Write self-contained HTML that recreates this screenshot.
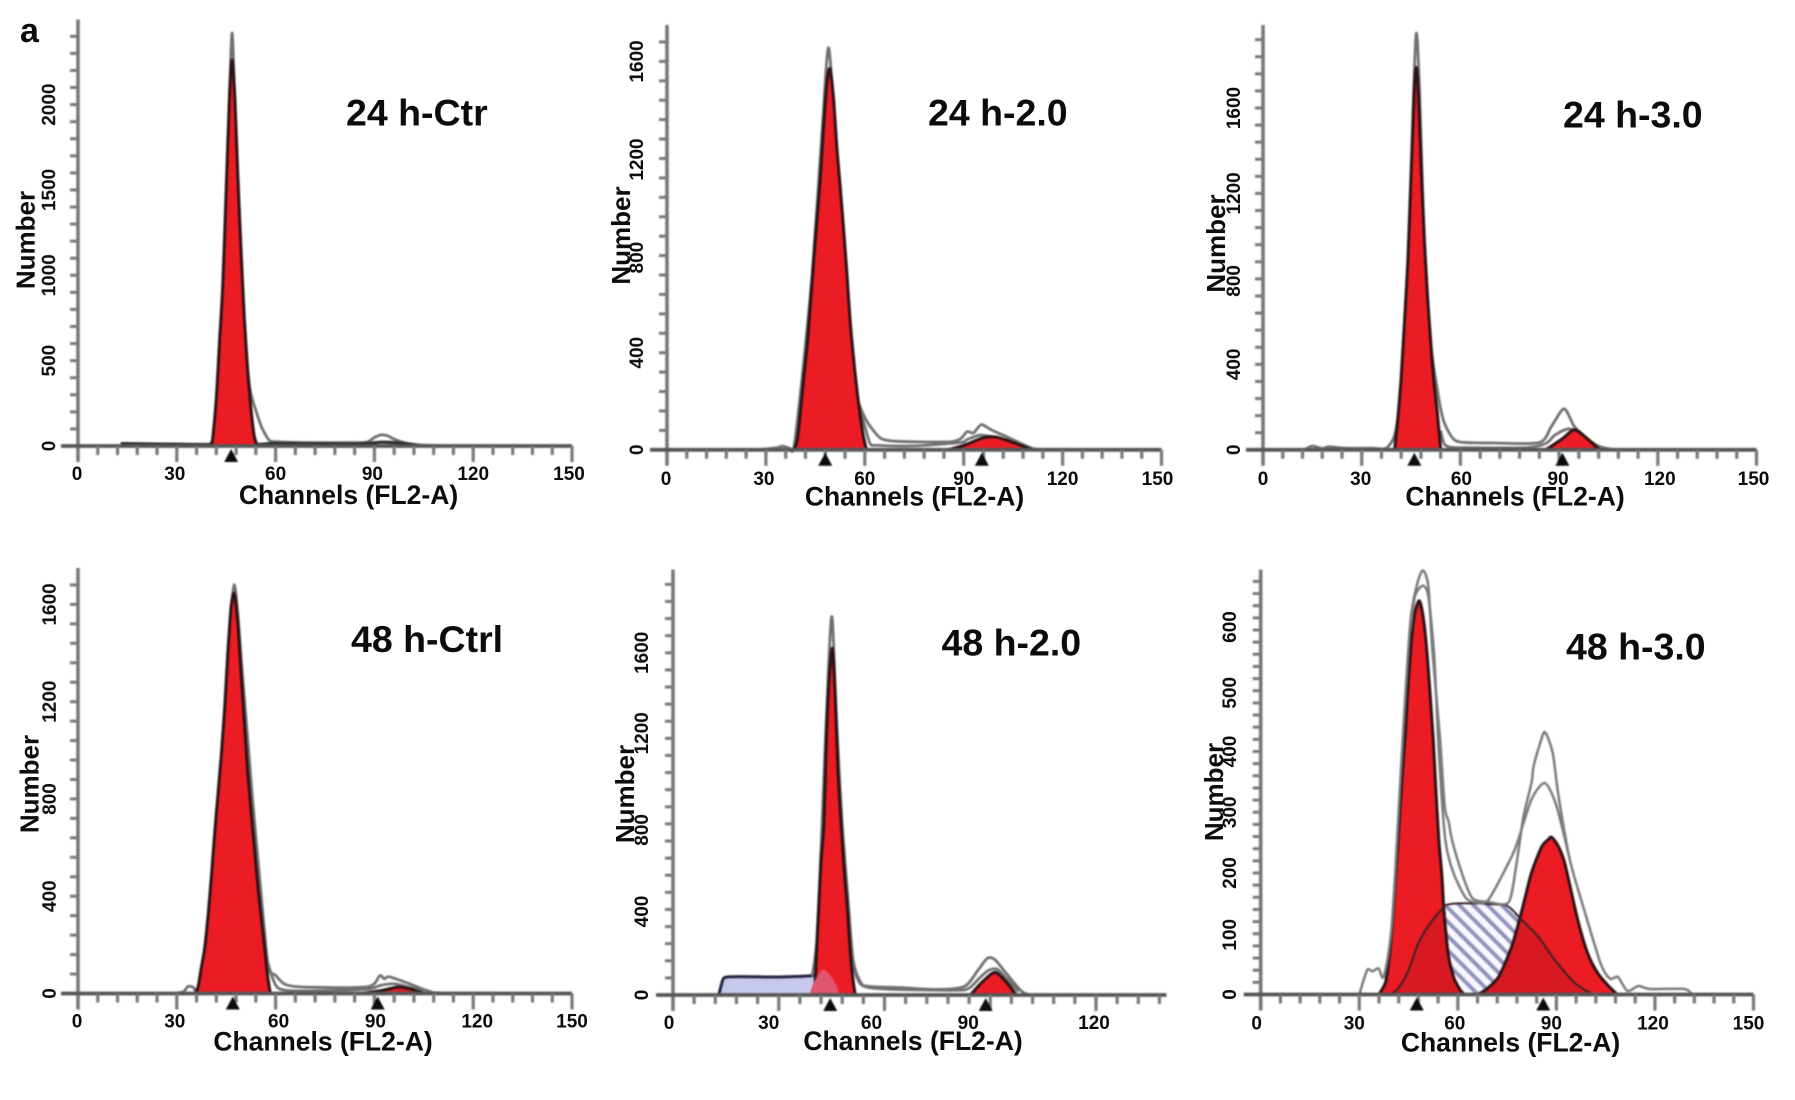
<!DOCTYPE html>
<html lang="en">
<head>
<meta charset="utf-8">
<title>Cell cycle histograms</title>
<style>
html,body{margin:0;padding:0;background:#fff;width:1795px;height:1100px;overflow:hidden}
svg{display:block}
text{font-family:"Liberation Sans",sans-serif;font-weight:bold;fill:#0c0c0c;filter:blur(0.35px)}
</style>
</head>
<body>
<svg id="figure" xmlns="http://www.w3.org/2000/svg" width="1795" height="1100" viewBox="0 0 1795 1100">
  <defs>
    <pattern id="hatch" patternUnits="userSpaceOnUse" width="10" height="10" patternTransform="rotate(-45)">
      <rect width="10" height="10" fill="#f7f7fc"></rect>
      <rect width="3.8" height="10" fill="#8f91bb"></rect>
    </pattern>
  </defs>
  <text x="20" y="42" font-size="34">a</text>
</svg>
<script>
// Shared tick labels
const xTicks150 = [0, 30, 60, 90, 120, 150];
const xTicks120 = [0, 30, 60, 90, 120];
const yTicks2000 = [0, 500, 1000, 1500, 2000];
const yTicks1600 = [0, 400, 800, 1200, 1600];
const yTicks600 = [0, 100, 200, 300, 400, 500, 600];

// Panel 24 h-Ctr
const p1RedCh = [40.5,41,42,43,44,45,46,46.8,47.6,48.5,49.5,50.5,51.5,52.5,53.5,54.5];
const p1RedN = [0,60,280,620,960,1500,2050,2260,2050,1600,1150,750,450,220,60,0];
const p1OuterCh = [13,30,40,42,44,45.5,46.8,48,49,50,51,52,53,54,55,56,58,60,70,85,88,90,92,94,96,99,103,110,150];
const p1OuterN = [12,12,12,150,700,1700,2420,1700,1150,800,560,360,270,210,150,100,35,25,20,20,25,50,65,60,40,20,8,3,0];
const p1BandCh = [13,30,41,54,60,85,92,97,103];
const p1BandN = [14,10,8,8,14,12,22,18,4];
const p1Peaks = [46.5];

// Panel 24 h-2.0
const p2RedCh = [38.5,39.5,40.5,41.5,42.5,43.5,44.5,45.5,46.5,47.5,48.5,49.4,50.5,51.5,52.5,53.5,54.5,55.5,56.5,57.5,58.5,59.5,60.5];
const p2RedN = [0,40,160,300,430,600,780,950,1120,1330,1510,1570,1450,1250,1090,920,740,540,390,260,150,60,0];
const p2G2Ch = [85,90,96,100,105,111];
const p2G2N = [0,18,50,52,30,0];
const p2OuterCh = [28,33,35,37,38.5,41,44,47,49,51,53,55,56.4,58,60,62,65,70,85,89,91,93,95.3,98,102,106,111,116,150];
const p2OuterN = [0,8,15,8,10,300,720,1300,1657,1300,960,560,292,200,133,90,46,35,32,45,75,70,104,85,60,35,5,2,0];
const p2InnerCh = [57,60,61.6,64,75,89,91,95,100,104,110];
const p2InnerN = [230,97,25,18,16,30,42,60,50,36,4];
const p2Peaks = [48, 95.5];

// Panel 24 h-3.0
const p3RedCh = [40,41,42,43,44,45,46,46.6,47.2,48,49,50,51,52,53,54];
const p3RedN = [0,150,340,600,880,1280,1680,1790,1680,1350,1000,720,500,310,170,0];
const p3G2Ch = [85,86.5,91,94.6,98,102,104];
const p3G2N = [0,6,52,94,60,5,0];
const p3OuterCh = [13,15,18,20,25,33,38,41,44,46.6,49,51,53,53.9,55,57.4,60,70,84,87.7,91.5,94.6,98,101.6,106,112,150];
const p3OuterN = [3,18,6,14,8,8,14,150,800,1950,1000,500,280,200,130,60,36,32,34,110,192,110,60,20,3,0,0];
const p3InnerCh = [54,55,57,62,80,86,88.8,93,97,100];
const p3InnerN = [90,30,12,10,10,30,70,98,70,30];
const p3Peaks = [46, 91];

// Panel 48 h-Ctrl
const p4RedCh = [35.7,36.5,37.5,38.5,39.5,40.5,41.5,42.5,43.5,44.5,45.5,46.5,47.4,48.5,49.5,50.5,51.5,52.5,53.5,54.5,55.5,56.5,57.5,58.4];
const p4RedN = [0,30,110,190,320,480,660,820,980,1170,1400,1590,1645,1530,1320,1120,920,760,610,460,330,210,80,0];
const p4G2Ch = [86,92,97,101,105];
const p4G2N = [0,12,26,18,0];
const p4OuterCh = [29,32,33.5,35,36,38,42,45,47.4,50,53,56,57.8,60,63,69.5,88,91.6,93,94.5,99.7,106.7,112,150];
const p4OuterN = [0,8,30,25,14,110,680,1230,1680,1300,800,350,110,75,37,26,28,73,60,69,45,9,2,0];
const p4InnerCh = [56,59,60.7,64,75,88,92,96,100,105];
const p4InnerN = [200,66,23,12,12,18,34,40,28,10];
const p4Peaks = [47, 91];

// Panel 48 h-2.0
const p5DebrisCh = [13,14.2,15.8,20,30,39,42.4,44];
const p5DebrisN = [0,74,85,86,84,90,100,0];
const p5OverlapCh = [38.6,40,42.4,44.5,46.2,47.3];
const p5OverlapN = [0,60,118,95,49,0];
const p5RedCh = [39.7,40.3,41,42,42.8,43.5,44.3,45.2,46,46.8,47.7,48.6,49.5,50.3,51,51.7];
const p5RedN = [0,60,300,620,800,1180,1480,1620,1400,1050,800,580,400,200,80,0];
const p5G2Ch = [84.3,88,91.4,94.7,97.4];
const p5G2N = [0,65,106,57,0];
const p5OuterCh = [39.5,41,43,44.3,45.2,46.5,48,49.5,51.1,53.3,55.5,65,75,82.7,86.5,89.2,91.4,94.7,99,101.7,104];
const p5OuterN = [90,300,1100,1600,1760,1250,800,480,164,57,40,34,26,40,115,172,164,98,16,0,0];
const p5InnerCh = [50,52,54,60,80,84,87,89.5,92,95,98];
const p5InnerN = [220,90,42,28,22,32,80,115,120,70,15];
const p5Peaks = [44.6, 88.7];

// Panel 48 h-3.0
const p6SCh = [39.4,42,45,48,51.7,55,56.2,60,65.3,69,74.4,76.5,78.9,84.5,89.5,95.6,100.6,102];
const p6SN = [0,11,40,85,118,140,147,150,150,149,147,140,126,95,57,19,2,0];
const p6Red1Ch = [36,38,39,40,41,42,43,44,45,46,47,48.3,49.5,50.5,51.5,52.5,53.3,54.2,55.1,55.7,56.3,57.2,58.7,60,61.2,62];
const p6Red1N = [0,20,55,110,190,270,355,430,520,590,630,648,620,570,500,420,340,255,200,143,105,62,29,14,4,0];
const p6Red2Ch = [66,68.3,72.4,76.4,78.9,80.5,82.4,85.5,87.5,88.5,90.5,92.5,96.5,99.5,102.6,105.7,108.5];
const p6Red2N = [0,7,29,79,126,160,200,243,255,259,245,217,123,68,35,15,0];
const p6UpperCh = [30,32.4,34,35.9,37.5,40,43,45.5,47.5,49.3,51,52.2,54.5,56,57.2,58.2,61.2,63.8,65.5,69.6,75.5,77.8,80,82.5,83,84.8,86.5,88.9,90.6,94,97.6,103.4,106.3,108.7,111.6,115,118.5,129,131.5,135];
const p6UpperN = [0,40,38,43,30,120,400,610,673,698,673,570,426,310,285,255,200,164,155,152,152,213,293,350,374,409,432,397,328,224,155,52,26,29,6,14,9,9,0,0];
const p6LowerCh = [45.5,47,49.3,51,52.8,54.2,56.2,58.7,62.3,65,69.3,76.4,78.4,82.5,86.5,90,94];
const p6LowerN = [600,656,673,656,558,400,255,200,160,152,156,227,255,322,348,311,224];
const p6Peaks = [47.5, 86];

// Panel layouts (axis calibration is layout, the arrays above are the data)
const panels = [
  {id:'24h-ctr', title:'24 h-Ctr', x0:78, xRefCh:150, xRef:572, xEnd:150, y0:446, refN:2000, refY:104.6, top:19.5, minor:100,
   xLabels:xTicks150, yLabels:yTicks2000, xNudge:[-1,-2,0,-2,0,-3], yNudge:[0,0,0,0,0], xLabelY:480, tickX:55.2,
   titleX:346, titleY:125.7, axisX:348.5, axisY:504, numX:34.6, numY:240, peaks:p1Peaks,
   series:[{k:'gray',c:p1OuterCh,n:p1OuterN,name:'outer-trace'},{k:'band',c:p1BandCh,n:p1BandN,name:'baseline-trace'},{k:'red',c:p1RedCh,n:p1RedN,name:'g1-peak'}]},
  {id:'24h-2', title:'24 h-2.0', x0:667, xRefCh:150, xRef:1161.5, xEnd:150, y0:449.8, refN:1600, refY:61.4, top:25, minor:80,
   xLabels:xTicks150, yLabels:yTicks1600, xNudge:[-1,-2,0,0,0,-4], yNudge:[0,0,2,1,0], xLabelY:485, tickX:643,
   titleX:928, titleY:125.7, axisX:914.5, axisY:505.5, numX:630, numY:235.5, peaks:p2Peaks,
   series:[{k:'gray',c:p2OuterCh,n:p2OuterN,name:'outer-trace'},{k:'gray',c:p2InnerCh,n:p2InnerN,name:'inner-trace'},{k:'red',c:p2G2Ch,n:p2G2N,name:'g2-peak'},{k:'red',c:p2RedCh,n:p2RedN,name:'g1-peak'}]},
  {id:'24h-3', title:'24 h-3.0', x0:1263, xRefCh:150, xRef:1756.5, xEnd:150, y0:449.8, refN:1600, refY:108, top:25, minor:80,
   xLabels:xTicks150, yLabels:yTicks1600, xNudge:[0,-1,1,-1,2,-3], yNudge:[0,0,2,0,0], xLabelY:485, tickX:1240,
   titleX:1563, titleY:127.5, axisX:1515, axisY:505.5, numX:1225, numY:243.5, peaks:p3Peaks,
   series:[{k:'gray',c:p3OuterCh,n:p3OuterN,name:'outer-trace'},{k:'gray',c:p3InnerCh,n:p3InnerN,name:'inner-trace'},{k:'red',c:p3G2Ch,n:p3G2N,name:'g2-peak'},{k:'red',c:p3RedCh,n:p3RedN,name:'g1-peak'}]},
  {id:'48h-ctrl', title:'48 h-Ctrl', x0:78, xRefCh:150, xRef:572, xEnd:150, y0:993.5, refN:1600, refY:604.4, top:568, minor:80,
   xLabels:xTicks150, yLabels:yTicks1600, xNudge:[-1,-2,3,1,4,0], yNudge:[0,0,0,0,0], xLabelY:1027.5, tickX:55.8,
   titleX:351, titleY:652, axisX:323, axisY:1050.5, numX:38.5, numY:784, peaks:p4Peaks,
   series:[{k:'gray',c:p4OuterCh,n:p4OuterN,name:'outer-trace'},{k:'gray',c:p4InnerCh,n:p4InnerN,name:'inner-trace'},{k:'red',c:p4G2Ch,n:p4G2N,name:'g2-peak'},{k:'red',c:p4RedCh,n:p4RedN,name:'g1-peak'}]},
  {id:'48h-2', title:'48 h-2.0', x0:673, xRefCh:120, xRef:1096, xEnd:140, y0:995, refN:1600, refY:652.8, top:569.5, minor:80,
   xLabels:xTicks120, yLabels:yTicks1600, xNudge:[-4,-10,-13,-22,-2], yNudge:[0,2,6,-5,0], xLabelY:1029, tickX:648,
   titleX:941.5, titleY:655.7, axisX:913, axisY:1050, numX:634, numY:794, peaks:p5Peaks,
   series:[{k:'debris',c:p5DebrisCh,n:p5DebrisN,name:'debris-area'},{k:'gray',c:p5OuterCh,n:p5OuterN,name:'outer-trace'},{k:'gray',c:p5InnerCh,n:p5InnerN,name:'inner-trace'},{k:'red',c:p5G2Ch,n:p5G2N,name:'g2-peak'},{k:'red',c:p5RedCh,n:p5RedN,name:'g1-peak'},{k:'overlap',c:p5OverlapCh,n:p5OverlapN,name:'debris-overlap'}]},
  {id:'48h-3', title:'48 h-3.0', x0:1260.7, xRefCh:150, xRef:1753.5, xEnd:150, y0:994.5, refN:600, refY:630, top:569.5, minor:20,
   xLabels:xTicks150, yLabels:yTicks600, xNudge:[-4,-5,-3,-5,-2,-5], yNudge:[0,1,0,0,0,2,-3], xLabelY:1029.5, tickX:1236,
   titleX:1566, titleY:659.3, axisX:1510.5, axisY:1051.5, numX:1223, numY:792, peaks:p6Peaks,
   series:[{k:'hatch',c:p6SCh,n:p6SN,name:'s-phase-area'},{k:'red',c:p6Red1Ch,n:p6Red1N,name:'g1-peak'},{k:'red',c:p6Red2Ch,n:p6Red2N,name:'g2-peak'},{k:'sshade',c:p6SCh,n:p6SN,name:'s-phase-overlap',clip:[[p6Red1Ch,p6Red1N],[p6Red2Ch,p6Red2N]]},{k:'sline',c:p6SCh,n:p6SN,name:'s-phase-curve'},{k:'thin',c:p6UpperCh,n:p6UpperN,name:'upper-trace'},{k:'thin',c:p6LowerCh,n:p6LowerN,name:'lower-trace'}]}
];

const NS = 'http://www.w3.org/2000/svg';
const svg = document.getElementById('figure');

function mk(parent, tag, name) {
  const el = document.createElementNS(NS, tag);
  
  
  parent.appendChild(el);
  return el;
}

function set(el, props) {
  for (const key in props) el.setAttribute(key, props[key]);
  return el;
}

// Smooth curve through the data points, with limited overshoot
function curve(xs, ys) {
  let d = 'M' + xs[0].toFixed(1) + ' ' + ys[0].toFixed(1);
  const t = 0.13;
  for (let i = 0; i < xs.length - 1; i++) {
    const a = Math.max(i - 1, 0), b = Math.min(i + 2, xs.length - 1);
    const c1x = xs[i] + (xs[i + 1] - xs[a]) * t, c1y = ys[i] + (ys[i + 1] - ys[a]) * t;
    const c2x = xs[i + 1] - (xs[b] - xs[i]) * t, c2y = ys[i + 1] - (ys[b] - ys[i]) * t;
    d += 'C' + c1x.toFixed(1) + ' ' + c1y.toFixed(1) + ' ' + c2x.toFixed(1) + ' ' + c2y.toFixed(1) + ' ' + xs[i + 1].toFixed(1) + ' ' + ys[i + 1].toFixed(1);
  }
  return d;
}

const seriesStyles = {
  gray:{fill:'none',stroke:'#707070','stroke-width':2.8},
  thin:{fill:'none',stroke:'#7a7a7a','stroke-width':2.5},
  band:{fill:'none',stroke:'#2b2b2b','stroke-width':3.2},
  red:{fill:'#ec1c24',stroke:'#2c1214','stroke-width':3},
  debris:{fill:'#c6c8ec',stroke:'#23233f','stroke-width':3},
  overlap:{fill:'#e0566c',stroke:'none'},
  hatch:{fill:'url(#hatch)',stroke:'none'},
  sshade:{fill:'#5a1016','fill-opacity':0.14,stroke:'none'},
  sline:{fill:'none',stroke:'#3a2224','stroke-width':2}
};

panels.forEach(function (p, idx) {
  const pxPerCh = (p.xRef - p.x0) / p.xRefCh;
  const pxPerN = (p.y0 - p.refY) / p.refN;
  const sx = function (ch) { return p.x0 + ch * pxPerCh; };
  const sy = function (n) { return p.y0 - n * pxPerN; };
  const g = mk(svg, 'g', 'panel-' + p.id);
  const soft = mk(g, 'g', 'plot-area');
  soft.setAttribute('style', 'filter:blur(0.7px)');

  // Marks
  p.series.forEach(function (s, si) {
    const xs = s.c.map(sx), ys = s.n.map(sy);
    const closed = ['red', 'debris', 'overlap', 'hatch', 'sshade'].indexOf(s.k) >= 0;
    let d = curve(xs, ys);
    if (closed) d += 'L' + xs[xs.length - 1].toFixed(1) + ' ' + p.y0 + 'L' + xs[0].toFixed(1) + ' ' + p.y0 + 'Z';
    if (s.clip) {
      const cp = mk(svg.querySelector('defs'), 'clipPath', 'overlap-clip');
      cp.setAttribute('id', 'clip-' + idx + '-' + si);
      s.clip.forEach(function (pair) {
        const cxs = pair[0].map(sx), cys = pair[1].map(sy);
        const cpath = mk(cp, 'path', 'overlap-clip-shape');
        cpath.setAttribute('d', curve(cxs, cys) + 'L' + cxs[cxs.length - 1].toFixed(1) + ' ' + p.y0 + 'L' + cxs[0].toFixed(1) + ' ' + p.y0 + 'Z');
      });
    }
    const path = mk(soft, 'path', s.name);
    set(path, seriesStyles[s.k]);
    path.setAttribute('stroke-linejoin', 'round');
    path.setAttribute('d', d);
    if (s.clip) path.setAttribute('clip-path', 'url(#clip-' + idx + '-' + si + ')');
  });

  // Axes
  const axisColor = '#787878';
  const yAxis = mk(soft, 'line', 'y-axis');
  set(yAxis, {x1:p.x0, x2:p.x0, y1:p.top, y2:p.y0 + 16, stroke:axisColor, 'stroke-width':3.6});
  const xAxis = mk(soft, 'line', 'x-axis');
  set(xAxis, {x1:p.x0 - 17, x2:sx(p.xEnd), y1:p.y0, y2:p.y0, stroke:'#565656', 'stroke-width':3.8});
  for (let ch = 6; ch <= p.xEnd; ch += 6) {
    const tick = mk(soft, 'line', 'x-tick');
    const len = ch % 30 === 0 ? 16 : 9;
    set(tick, {x1:sx(ch), x2:sx(ch), y1:p.y0, y2:p.y0 + len, stroke:axisColor, 'stroke-width':3.2});
  }
  for (let n = p.minor; sy(n) > p.top + 2; n += p.minor) {
    const tick = mk(soft, 'line', 'y-tick');
    set(tick, {x1:p.x0 - 8, x2:p.x0, y1:sy(n), y2:sy(n), stroke:axisColor, 'stroke-width':3});
  }

  // Peak markers
  p.peaks.forEach(function (ch) {
    const m = mk(soft, 'path', 'peak-marker');
    const x = sx(ch);
    m.setAttribute('d', 'M' + (x - 7) + ' ' + (p.y0 + 16) + 'L' + x + ' ' + (p.y0 + 3) + 'L' + (x + 7) + ' ' + (p.y0 + 16) + 'Z');
    m.setAttribute('fill', '#0c0c0c');
  });

  // Labels
  p.xLabels.forEach(function (v, i) {
    const t = mk(g, 'text', 'x-tick-label');
    set(t, {x:sx(v) + p.xNudge[i], y:p.xLabelY, 'font-size':19, 'text-anchor':'middle'});
    t.textContent = String(v);
  });
  p.yLabels.forEach(function (v, i) {
    const t = mk(g, 'text', 'y-tick-label');
    set(t, {transform:'translate(' + p.tickX + ' ' + (sy(v) + p.yNudge[i]).toFixed(1) + ') rotate(-90)', 'font-size':19, 'text-anchor':'middle'});
    t.textContent = String(v);
  });
  const xt = mk(g, 'text', 'x-axis-title');
  set(xt, {x:p.axisX, y:p.axisY, 'font-size':26.5, 'text-anchor':'middle'});
  xt.textContent = 'Channels (FL2-A)';
  const yt = mk(g, 'text', 'y-axis-title');
  set(yt, {transform:'translate(' + p.numX + ' ' + p.numY + ') rotate(-90)', 'font-size':26, 'text-anchor':'middle'});
  yt.textContent = 'Number';
  const title = mk(g, 'text', 'panel-title');
  set(title, {x:p.titleX, y:p.titleY, 'font-size':37.5});
  title.textContent = p.title;
});
</script>
</body>
</html>
